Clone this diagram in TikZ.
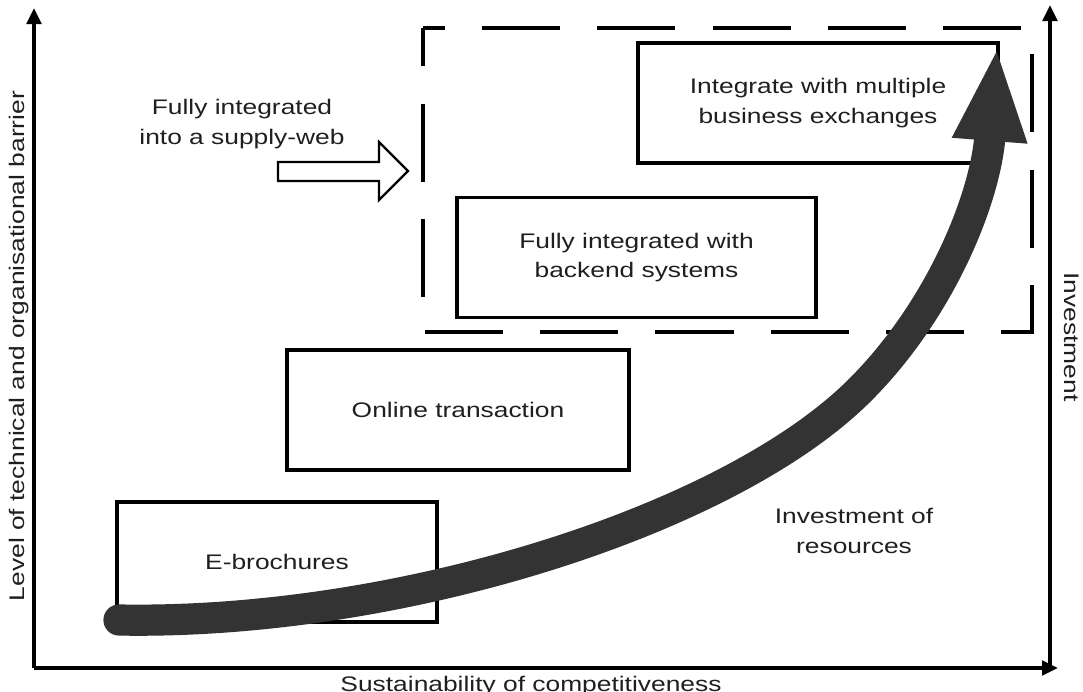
\documentclass[tikz,border=0pt]{standalone}
\usepackage{fontspec}
\setmainfont{Liberation Sans}[FakeStretch=1.25]
\usetikzlibrary{arrows.meta}
\tikzset{
  stage/.style={draw, line width=2.4pt, minimum height=3cm, align=center, inner sep=0pt},
  axis/.style={line width=2.6pt, -{Triangle[length=0.4cm,width=0.36cm]}},
  lbl/.style={align=center, inner sep=0pt},
  growth/.style={line width=0.78cm, draw=black!80, line cap=round, -{Triangle[length=2.35cm,width=1.7cm]}}
}
\begin{document}
\begin{tikzpicture}[x=0.025cm, y=-0.025cm, font=\fontsize{15}{21}\selectfont, text=black!88]
\useasboundingbox (0,0) rectangle (1083,691);
\coordinate (o) at (34,668);
\coordinate (ytop) at (34,8);
\coordinate (xend) at (1058,668);
\coordinate (r0) at (1050,668);
\coordinate (rtop) at (1050,5);
\draw[axis] (o) -- (ytop);
\draw[axis] (o) -- (xend);
\draw[axis] (r0) -- (rtop);
\node[lbl, rotate=90] (barrier) at (19,346) {Level of technical and organisational barrier};
\node[lbl, rotate=-90] (invest) at (1072,337) {Investment};
\node[lbl, anchor=north] (sustain) at (531,676) {Sustainability of competitiveness};
\draw[line width=2.8pt, dash pattern=on 1.95cm off 0.93cm, dash phase=1.4cm] (423,28) -- (1032,28) -- (1032,332) -- (423,332) -- cycle;
\node[stage, minimum width=9cm] (exch) at (818,103) {Integrate with multiple\\business exchanges};
\node[stage, minimum width=8.975cm] (backend) at (636.5,257.5) {Fully integrated with\\backend systems};
\node[stage, minimum width=8.55cm] (online) at (458,410) {Online transaction};
\node[stage, minimum width=8cm] (brochure) at (277,562) {E-brochures};
\node[lbl] (web) at (242,124) {Fully integrated\\into a supply-web};
\draw[line width=1.6pt, fill=white] (278,162) -- (379,162) -- (379,142) -- (408,171) -- (379,200) -- (379,181) -- (278,181) -- cycle;
\node[lbl] (resources) at (854,531) {Investment of\\resources};
\coordinate (s) at (119,620);
\coordinate (m) at (860,390);
\coordinate (t) at (997,47);
\draw[growth] (s) .. controls (400,625) and (730,520) .. (m) .. controls (940,310) and (985,200) .. (t);
\end{tikzpicture}
\end{document}
